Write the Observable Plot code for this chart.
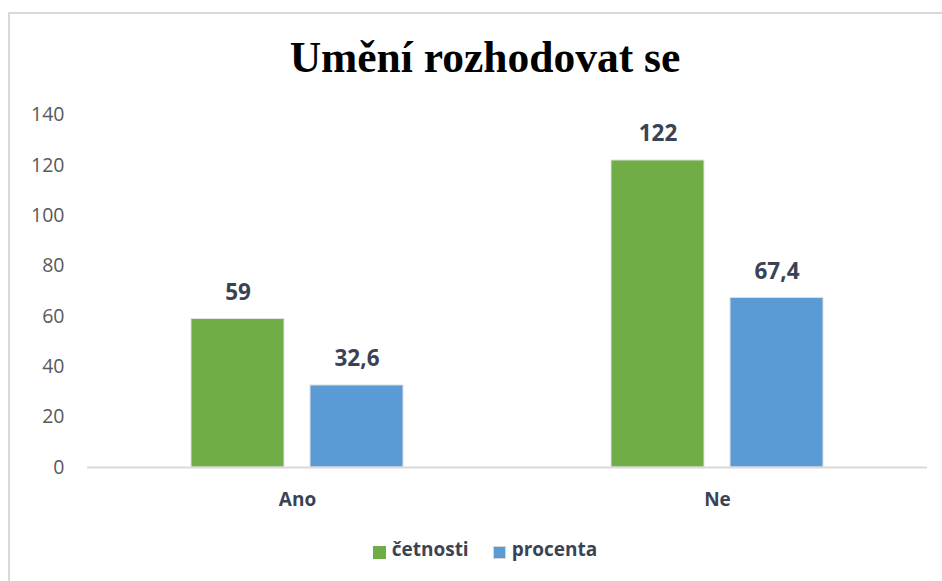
<!DOCTYPE html>
<html>
<head>
<meta charset="utf-8">
<script src="https://cdn.jsdelivr.net/npm/d3@7"></script>
<script src="https://cdn.jsdelivr.net/npm/@observablehq/plot@0.6"></script>
<style>
  html, body { margin: 0; padding: 0; background: #fff; }
  #wrap { position: relative; width: 942px; height: 581px; overflow: hidden; background: #fff; }
  #frame { position: absolute; left: 8px; top: 12px; width: 980px; height: 620px; border: 2px solid #d9d9d9; box-sizing: border-box; }
  #title { position: absolute; left: 0; top: 35.5px; width: 970px; text-align: center; font-family: "Liberation Serif", "Times New Roman", serif; font-weight: bold; font-size: 43.5px; line-height: 43.5px; color: #000; }
  #chart { position: absolute; left: 0; top: 0; }
  #legend { position: absolute; left: 0; top: 540px; width: 970px; display: flex; justify-content: center; align-items: center; font-family: "Open Sans", sans-serif; font-weight: bold; font-size: 19px; line-height: 19px; color: #3a4354; }
  .sw { width: 13px; height: 13px; display: inline-block; box-sizing: border-box; margin-right: 6px; margin-top: 5px; }
  .item { display: flex; align-items: center; }
</style>
</head>
<body>
<div id="wrap">
  <div id="frame"></div>
  <div id="title">Umění rozhodovat se</div>
  <div id="chart"></div>
  <div id="legend"></div>
</div>
<script>
const categories = ["Ano", "Ne"];
const series = ["četnosti", "procenta"];
const cetnosti = [59, 122];
const procenta = [32.6, 67.4];
const yTicks = [0, 20, 40, 60, 80, 100, 120, 140];

const data = [];
categories.forEach((c, i) => {
  data.push({cat: c, series: series[0], value: cetnosti[i]});
  data.push({cat: c, series: series[1], value: procenta[i]});
});

const colorRange = ["#70ad47", "#5b9bd5"];
const labelColor = "#3a4354";

const chart = Plot.plot({
  width: 942,
  height: 530,
  marginTop: 114.7,
  marginBottom: 63,
  marginLeft: 86,
  marginRight: 15,
  style: {background: "transparent", fontFamily: "'Open Sans', sans-serif"},
  fx: {domain: categories, padding: 0, label: null},
  x: {domain: series, paddingInner: 0.2167, paddingOuter: 0.86, axis: null},
  y: {domain: [0, 140], label: null},
  color: {domain: series, range: colorRange},
  marks: [
    Plot.axisY({ticks: yTicks, tickSize: 0, tickPadding: 23, fontSize: 19.5, color: "#595959", fill: "#595959", label: null}),
    Plot.axisFx({anchor: "bottom", tickSize: 0, tickPadding: 25, fontSize: 19, fontWeight: "bold", color: labelColor, fill: labelColor, label: null}),
    Plot.barY(data, {fx: "cat", x: "series", y: "value", fill: "series", stroke: "#e2e2e2", strokeWidth: 1}),
    Plot.ruleY([0], {stroke: "#d9d9d9", strokeWidth: 2}),
    Plot.text(data, {fx: "cat", x: "series", y: "value", text: d => String(d.value).replace(".", ","), dy: -19, lineAnchor: "bottom", fontSize: 22.5, fontWeight: "bold", fill: labelColor})
  ]
});
document.getElementById("chart").appendChild(chart);

const legend = document.getElementById("legend");
series.forEach((s, i) => {
  const item = document.createElement("div");
  item.className = "item";
  if (i > 0) item.style.marginLeft = "24px";
  const sw = document.createElement("span");
  sw.className = "sw";
  sw.style.background = colorRange[i];
  if (i === 1) sw.style.border = "1px solid #d6d6d6";
  const t = document.createElement("span");
  t.textContent = s;
  item.appendChild(sw);
  item.appendChild(t);
  legend.appendChild(item);
});
</script>
</body>
</html>
